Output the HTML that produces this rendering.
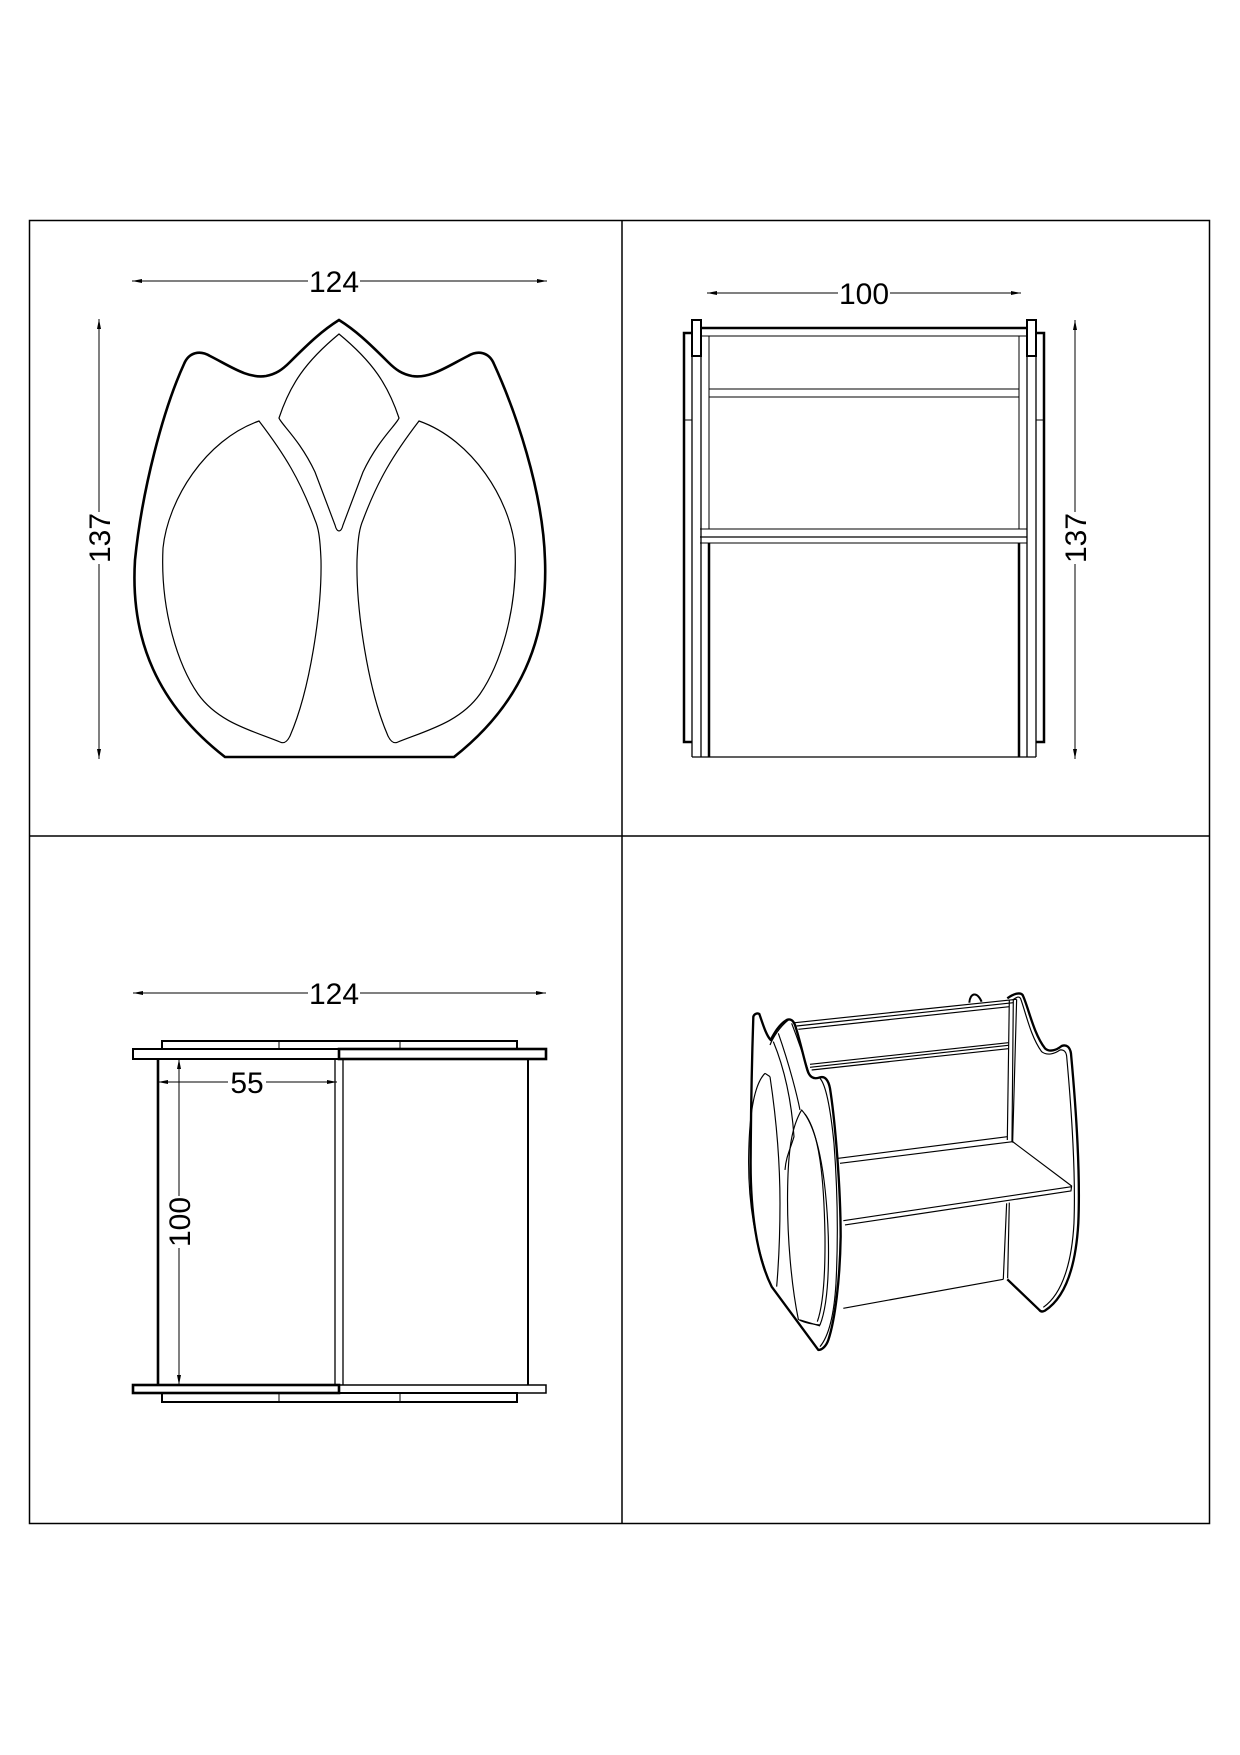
<!DOCTYPE html>
<html><head><meta charset="utf-8"><style>
html,body{margin:0;padding:0;background:#fff;}
svg{display:block;}
text{font-family:"Liberation Sans",sans-serif;font-size:30px;fill:#000;}
</style></head><body>
<svg width="1240" height="1755" viewBox="0 0 1240 1755" xmlns="http://www.w3.org/2000/svg">
<defs>
<marker id="a" viewBox="0 0 10 6" refX="10" refY="3" markerWidth="10" markerHeight="6" orient="auto" markerUnits="userSpaceOnUse"><path d="M0,1 L10,3 L0,5Z" fill="#000"/></marker>
</defs>
<g fill="none" stroke="#000">
<!-- frame -->
<rect x="29.5" y="220.5" width="1180" height="1303" stroke-width="1.5"/>
<line x1="622" y1="220" x2="622" y2="1523" stroke-width="1.5"/>
<line x1="29" y1="836" x2="1210" y2="836" stroke-width="1.5"/>

<!-- TOP LEFT dims -->
<line x1="308" y1="281" x2="132" y2="281" stroke-width="1" marker-end="url(#a)"/>
<line x1="360" y1="281" x2="547" y2="281" stroke-width="1" marker-end="url(#a)"/>
<line x1="99" y1="512" x2="99" y2="319" stroke-width="1" marker-end="url(#a)"/>
<line x1="99" y1="564" x2="99" y2="759" stroke-width="1" marker-end="url(#a)"/>

<!-- tulip outline -->
<path stroke-width="2.6" d="M225,757 L454,757 C520,705 548,640 545,560 C543,490 515,410 494,364 C489,352 478,350 468,356 C448,366 430,379 412,376 C402,374 396,370 388,362 C368,342 355,330 339,320 C323,330 310,342 290,362 C282,370 276,374 266,376 C248,379 230,366 210,356 C200,350 189,352 184,364 C163,410 142,490 135,560 C130,640 158,705 225,757 Z"/>
<!-- center leaf -->
<path stroke-width="1.2" d="M339,334 C305,362 290,385 279,418 C281,424 300,440 315,472 L335,525 C337,533 341,533 343,525 L363,472 C378,440 397,424 399,418 C388,385 373,362 339,334 Z"/>
<!-- left leaf -->
<path stroke-width="1.2" d="M259,421 C205,440 168,500 163,548 C160,610 178,665 198,694 C218,722 250,730 280,742 C284,744 287,742 290,736 C310,690 322,610 321,560 C320,535 318,527 315,520 C300,480 285,455 259,421 Z"/>
<!-- right leaf -->
<path stroke-width="1.2" transform="translate(678,0) scale(-1,1)" d="M259,421 C205,440 168,500 163,548 C160,610 178,665 198,694 C218,722 250,730 280,742 C284,744 287,742 290,736 C310,690 322,610 321,560 C320,535 318,527 315,520 C300,480 285,455 259,421 Z"/>

<!-- TOP RIGHT dims -->
<line x1="838" y1="293" x2="707" y2="293" stroke-width="1" marker-end="url(#a)"/>
<line x1="890" y1="293" x2="1021" y2="293" stroke-width="1" marker-end="url(#a)"/>
<line x1="1075" y1="512" x2="1075" y2="320" stroke-width="1" marker-end="url(#a)"/>
<line x1="1075" y1="564" x2="1075" y2="759" stroke-width="1" marker-end="url(#a)"/>

<!-- front view structure -->
<line x1="700" y1="328" x2="1027" y2="328" stroke-width="2.5"/>
<line x1="700" y1="336" x2="1027" y2="336" stroke-width="1"/>
<line x1="709" y1="389" x2="1019" y2="389" stroke-width="1"/>
<line x1="709" y1="397" x2="1019" y2="397" stroke-width="1"/>
<line x1="700" y1="529" x2="1027" y2="529" stroke-width="1"/>
<line x1="700" y1="537" x2="1027" y2="537" stroke-width="1.3"/>
<line x1="700" y1="543" x2="1027" y2="543" stroke-width="1"/>
<line x1="692" y1="757" x2="1036" y2="757" stroke-width="1.3"/>
<!-- left -->
<polyline stroke-width="2.5" points="692,333 684,333 684,742 692,742"/>
<line x1="684" y1="420" x2="692" y2="420" stroke-width="1"/>
<rect x="692" y="320" width="9" height="36" stroke-width="2"/>
<line x1="692" y1="356" x2="692" y2="757" stroke-width="1.3"/>
<line x1="701" y1="356" x2="701" y2="757" stroke-width="1.3"/>
<line x1="709" y1="336" x2="709" y2="529" stroke-width="1"/>
<line x1="709" y1="543" x2="709" y2="757" stroke-width="2.5"/>
<!-- right -->
<polyline stroke-width="2.5" points="1036,333 1044,333 1044,742 1036,742"/>
<line x1="1036" y1="420" x2="1044" y2="420" stroke-width="1"/>
<rect x="1027" y="320" width="9" height="36" stroke-width="2"/>
<line x1="1027" y1="356" x2="1027" y2="757" stroke-width="1.3"/>
<line x1="1036" y1="356" x2="1036" y2="757" stroke-width="1.3"/>
<line x1="1019" y1="336" x2="1019" y2="529" stroke-width="1"/>
<line x1="1019" y1="543" x2="1019" y2="757" stroke-width="2.5"/>

<!-- BOTTOM LEFT dims -->
<line x1="308" y1="993" x2="133" y2="993" stroke-width="1" marker-end="url(#a)"/>
<line x1="360" y1="993" x2="546" y2="993" stroke-width="1" marker-end="url(#a)"/>
<line x1="228" y1="1082" x2="158" y2="1082" stroke-width="1" marker-end="url(#a)"/>
<line x1="266" y1="1082" x2="337" y2="1082" stroke-width="1" marker-end="url(#a)"/>
<line x1="179" y1="1196" x2="179" y2="1059" stroke-width="1" marker-end="url(#a)"/>
<line x1="179" y1="1248" x2="179" y2="1385" stroke-width="1" marker-end="url(#a)"/>
<!-- top plates -->
<rect x="162" y="1041" width="355" height="8" stroke-width="2"/>
<line x1="279" y1="1041" x2="279" y2="1049" stroke-width="1"/>
<line x1="400" y1="1041" x2="400" y2="1049" stroke-width="1"/>
<rect x="133" y="1049" width="206" height="10" stroke-width="2"/>
<rect x="339" y="1049" width="207" height="10" stroke-width="2.6"/>
<!-- verticals -->
<line x1="158" y1="1059" x2="158" y2="1385" stroke-width="2.6"/>
<line x1="335" y1="1059" x2="335" y2="1385" stroke-width="1.3"/>
<line x1="343" y1="1059" x2="343" y2="1385" stroke-width="1.3"/>
<line x1="528" y1="1059" x2="528" y2="1385" stroke-width="2"/>
<!-- bottom plates -->
<rect x="133" y="1385" width="206" height="8" stroke-width="2.6"/>
<rect x="339" y="1385" width="207" height="8" stroke-width="1.5"/>
<rect x="162" y="1393" width="355" height="9" stroke-width="2"/>
<line x1="279" y1="1393" x2="279" y2="1402" stroke-width="1"/>
<line x1="400" y1="1393" x2="400" y2="1402" stroke-width="1"/>

<!-- ISO VIEW -->
<g transform="translate(720,970) scale(0.3333)" stroke-width="3.5" stroke-linejoin="round">
<!-- back tab -->
<path d="M748,98 C750,70 770,62 785,95" stroke-width="6"/>
<!-- right side board -->
<path stroke-width="7" d="M862,85 C880,72 900,65 908,75 C925,110 940,190 975,235 C990,248 1010,240 1025,228 C1040,222 1050,232 1053,250 C1065,380 1082,600 1075,760 C1068,880 1040,980 975,1022 C968,1026 962,1025 958,1020 L862,928"/>
<path d="M878,90 C892,80 898,78 902,86 C918,130 932,200 965,245 C982,258 1003,252 1020,240 C1030,238 1038,244 1040,258 C1052,390 1068,600 1062,760 C1056,870 1030,970 970,1012"/>
<!-- top rails -->
<path d="M225,158 L890,88 M235,178 L868,110 M270,283 L865,218 M275,300 L865,236"/>
<path d="M230,168 L880,98"/>
<path d="M270,292 L865,226"/>
<!-- back posts -->
<path d="M868,90 L862,510 M880,90 L876,515 M890,88 L878,518"/>
<!-- seat -->
<path d="M355,565 L862,500 M360,580 L878,515 L1055,648 L1053,663 L375,765 M370,752 L1055,650"/>
<!-- lower back -->
<path d="M860,700 L850,928 M868,698 L863,925 M370,1015 L850,928"/>
<!-- left outer board -->
<path stroke-width="7" d="M100,140 C102,132 112,128 118,132 C128,160 138,195 152,210 C160,195 175,165 200,150 C212,145 220,152 225,165 C240,210 250,260 262,300 C268,320 280,330 300,322 C315,318 325,330 330,355 C345,450 362,650 362,800 C360,930 345,1050 325,1110 C318,1130 305,1140 295,1140 L155,950 C110,860 90,720 92,560 C93,400 96,260 100,140 Z"/>
<path d="M205,150 C180,170 160,200 150,225 M215,160 C240,225 258,280 270,318"/>
<!-- inner front panel outline -->
<path d="M300,325 C318,345 332,420 342,520 C352,650 355,800 348,940 C342,1040 325,1100 300,1130"/>
<!-- left leaf -->
<path d="M135,310 C105,340 88,420 86,560 C84,700 105,820 150,940 M150,320 C165,420 180,560 180,700 C180,800 176,880 170,950 M135,310 L150,320"/>
<!-- middle strip -->
<path d="M160,215 C195,300 215,400 222,500 C210,540 198,560 195,600 M175,190 C210,290 232,380 240,420"/>
<!-- right leaf -->
<path d="M245,420 C290,470 318,600 325,800 C328,930 318,1020 300,1065 C270,1062 245,1055 235,1048 C215,950 200,800 203,650 C205,540 215,470 245,420 Z"/>
<path d="M255,432 C298,490 312,620 315,800 C316,920 308,1010 292,1055"/>
<path d="M240,1050 L300,1068"/>
</g>
</g>

<text x="334" y="292" text-anchor="middle">124</text>
<text transform="translate(110,538) rotate(-90)" text-anchor="middle">137</text>
<text x="864" y="304" text-anchor="middle">100</text>
<text transform="translate(1086,538) rotate(-90)" text-anchor="middle">137</text>
<text x="334" y="1004" text-anchor="middle">124</text>
<text x="247" y="1093" text-anchor="middle">55</text>
<text transform="translate(190,1222) rotate(-90)" text-anchor="middle">100</text>
</svg>
</body></html>
